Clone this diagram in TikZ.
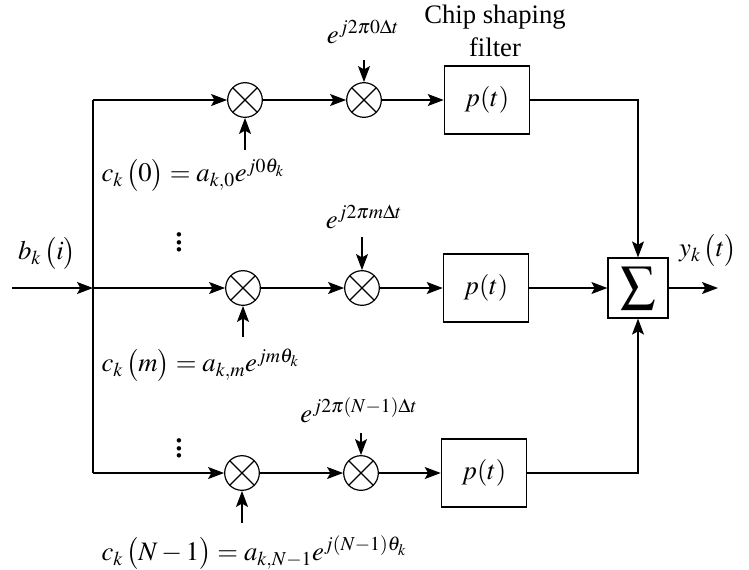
\documentclass[tikz,border=0pt]{standalone}
\usepackage{amsmath,mathptmx}
\usepackage{fontspec}
\setmainfont{Liberation Serif}
\usetikzlibrary{positioning,arrows.meta}

\begin{document}
\begin{tikzpicture}[x=.75pt,y=-.75pt,line width=.9pt,font=\fontsize{20}{25}\selectfont,
 >={Stealth[length=12pt,width=9pt,inset=2.5pt]},
 mix/.style={draw,circle,minimum size=26pt,inner sep=0pt,
  path picture={\draw (path picture bounding box.south west)--(path picture bounding box.north east)
   (path picture bounding box.north west)--(path picture bounding box.south east);}},
 filt/.style={draw,minimum width=64pt,minimum height=51pt,inner sep=0pt},
 coef/.style={anchor=west,inner sep=0pt}]
\useasboundingbox (0,0) rectangle (749,569);
\foreach \r/\y/\xa/\xb/\xc/\cy/\py in {0/100/245/364/487/150/60,1/288/243/362/486/337/237,2/473/242/361/484/523/433}{
 \node[mix] (mxa\r) at (\xa,\y) {};
 \node[mix] (mxb\r) at (\xb,\y) {};
 \node[filt] (flt\r) at (\xc,\y) {\(p(t)\)};
 \coordinate (br\r) at (93,\y);
 \coordinate (cf\r) at (\xa,\cy);
 \coordinate (ph\r) at (\xb,\py);
 \draw[->] (br\r) -- (mxa\r);
 \draw[->] (mxa\r) -- (mxb\r);
 \draw[->] (mxb\r) -- (flt\r);
 \draw[->] (cf\r) -- (mxa\r);
 \draw[->] (ph\r) -- (mxb\r);
}
\draw (br0) -- (br2);
\coordinate (in) at (12,288);
\draw[->] (in) -- (br1);
\node (bk) at (47,253) {\(b_k\,\bigl(i\bigr)\)};
\node[coef] (cz) at (101,175) {\(c_k\,\bigl(0\bigr)=a_{k,0}e^{j0\theta_k}\)};
\node[coef] (cm) at (101,365) {\(c_k\,\bigl(m\bigr)=a_{k,m}e^{jm\theta_k}\)};
\node[coef] (cn) at (101,553) {\(c_k\,\bigl(N-1\bigr)=a_{k,N-1}e^{j(N-1)\theta_k}\)};
\node (ez) at (363,32) {\(e^{j2\pi0\Delta t}\)};
\node (em) at (364,217) {\(e^{j2\pi m\Delta t}\)};
\node (en) at (359,410) {\(e^{j2\pi(N-1)\Delta t}\)};
\node[scale=1.4] (dta) at (179,237) {\(\vdots\)};
\node[scale=1.4] (dtb) at (179,443) {\(\vdots\)};
\node[align=center] (chip) at (495,31) {Chip shaping\\filter};
\node[draw,minimum size=45pt,inner sep=0pt] (sum) at (638,288) {\fontsize{26}{28}\selectfont\(\displaystyle\sum\)};
\draw[->] (flt0.east) -| (sum.north);
\draw[->] (flt1) -- (sum);
\draw[->] (flt2.east) -| (sum.south);
\coordinate (out) at (718,288);
\draw[->] (sum) -- (out);
\node (yk) at (708,250) {\(y_k\,\bigl(t\bigr)\)};
\end{tikzpicture}
\end{document}
